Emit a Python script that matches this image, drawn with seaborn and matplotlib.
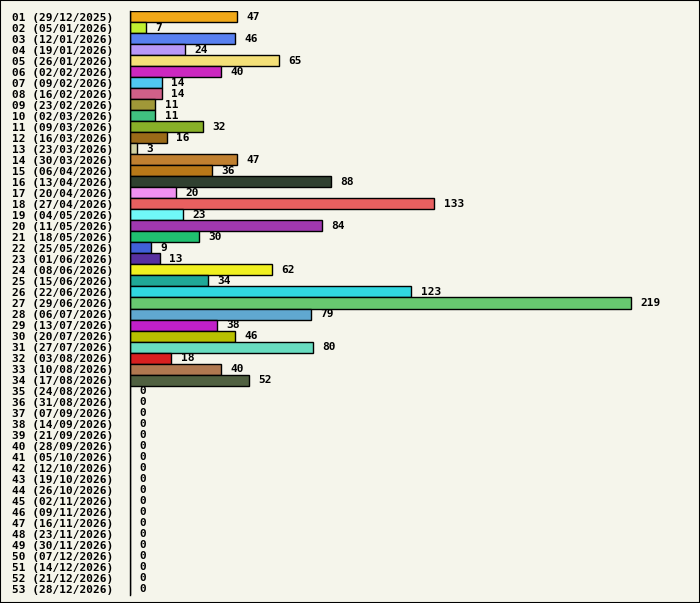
import matplotlib
matplotlib.use("Agg")
import matplotlib.pyplot as plt
import seaborn as sns
import pandas as pd

weeks = [f"{i:02d}" for i in range(1, 54)]
dates = ["29/12/2025", "05/01/2026", "12/01/2026", "19/01/2026", "26/01/2026", "02/02/2026",
         "09/02/2026", "16/02/2026", "23/02/2026", "02/03/2026", "09/03/2026", "16/03/2026",
         "23/03/2026", "30/03/2026", "06/04/2026", "13/04/2026", "20/04/2026", "27/04/2026",
         "04/05/2026", "11/05/2026", "18/05/2026", "25/05/2026", "01/06/2026", "08/06/2026",
         "15/06/2026", "22/06/2026", "29/06/2026", "06/07/2026", "13/07/2026", "20/07/2026",
         "27/07/2026", "03/08/2026", "10/08/2026", "17/08/2026", "24/08/2026", "31/08/2026",
         "07/09/2026", "14/09/2026", "21/09/2026", "28/09/2026", "05/10/2026", "12/10/2026",
         "19/10/2026", "26/10/2026", "02/11/2026", "09/11/2026", "16/11/2026", "23/11/2026",
         "30/11/2026", "07/12/2026", "14/12/2026", "21/12/2026", "28/12/2026"]
values = [47, 7, 46, 24, 65, 40, 14, 14, 11, 11, 32, 16, 3, 47, 36, 88, 20, 133, 23, 84,
          30, 9, 13, 62, 34, 123, 219, 79, 38, 46, 80, 18, 40, 52] + [0] * 19
colors = ["#f0a818", "#c0f030", "#5880f0", "#b898f8", "#f4e078", "#cc28c0", "#50c8f0",
          "#d06088", "#a09838", "#40c080", "#88b028", "#9a6a18", "#d0d0a0", "#c08030",
          "#b87818", "#304030", "#f090f0", "#e86060", "#70f8f8", "#a038b0", "#20c070",
          "#4060d8", "#5830a0", "#f0f020", "#20a898", "#30d8e0", "#68c870", "#60a8d0",
          "#c020c8", "#b8c000", "#68dcc0", "#d82020", "#b07850", "#506040"] + ["#808080"] * 19

labels = [f"{w} ({d})" for w, d in zip(weeks, dates)]
df = pd.DataFrame({"label": labels, "value": values})

sns.set_theme(style="white")
bg = "#f5f5eb"
plt.rcParams["font.family"] = ["DejaVu Sans Mono"]

fig = plt.figure(figsize=(7.0, 6.03), dpi=100, facecolor=bg)
ax = fig.add_axes([130 / 700, 1 - 595 / 603, 560 / 700, 584 / 603])
ax.set_facecolor(bg)

sns.barplot(data=df, y="label", x="value", hue="label", palette=colors, legend=False,
            orient="h", width=1.0, saturation=1.0, edgecolor="black", linewidth=1.0, ax=ax)

ax.set_xlim(0, 219 * 560 / 500.7)
ax.set_ylim(len(labels) - 0.5, -0.5)
for i, v in enumerate(values):
    ax.annotate(str(v), xy=(v, i), xytext=(6.8, 0), textcoords="offset points",
                va="center", ha="left", fontsize=8, fontweight="bold", color="black")

ax.set_xlabel("")
ax.set_ylabel("")
ax.set_xticks([])
ax.tick_params(axis="y", length=0, pad=12)
for t in ax.get_yticklabels():
    t.set_fontsize(8)
    t.set_fontweight("bold")
    t.set_color("black")
for s in ["top", "right", "bottom"]:
    ax.spines[s].set_visible(False)
ax.spines["left"].set_color("black")
ax.spines["left"].set_linewidth(1.0)

border = plt.Rectangle((0, 0), 1, 1, transform=fig.transFigure, fill=False,
                       edgecolor="black", linewidth=1.5, zorder=10)
fig.patches.append(border)

fig.savefig("out.png", dpi=100, facecolor=bg)
